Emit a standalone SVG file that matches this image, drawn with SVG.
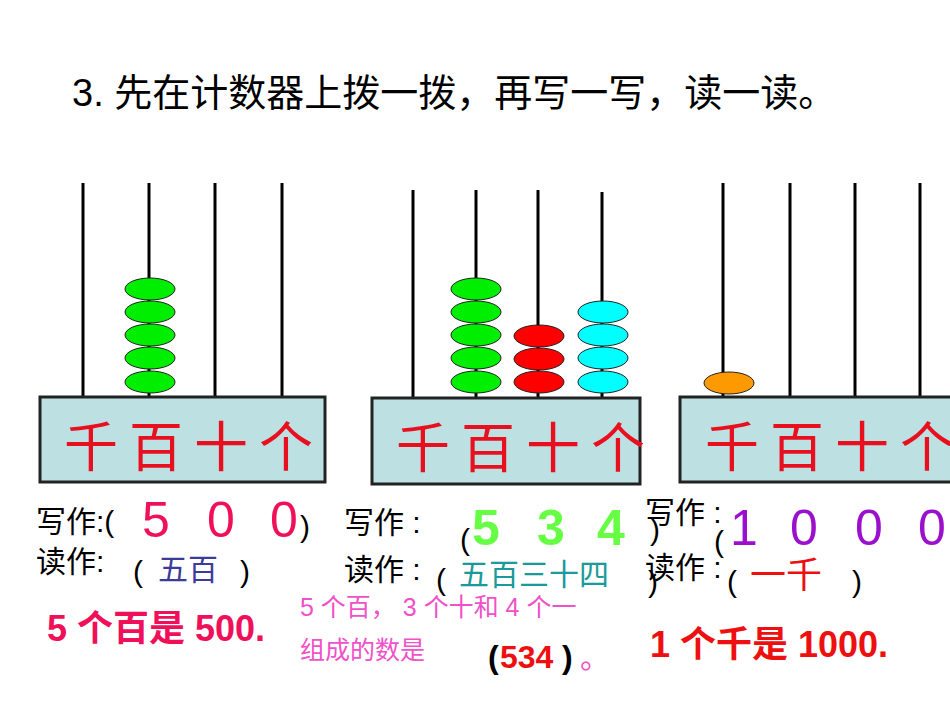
<svg xmlns="http://www.w3.org/2000/svg" width="950" height="713" viewBox="0 0 950 713">
<style>
.rod{stroke:#000;stroke-width:3}
.box{fill:#bde0e3;stroke:#222;stroke-width:3}
.lab{font-family:"Liberation Sans","Noto Sans CJK SC",sans-serif;font-size:54px;fill:#e8101e;letter-spacing:11px}
.t{font-family:"Liberation Sans","Noto Sans CJK SC",sans-serif}
.g{fill:#00ee00;stroke:#222;stroke-width:1}
.r{fill:#ff0000;stroke:#222;stroke-width:1}
.c{fill:#00ffff;stroke:#222;stroke-width:1}
</style>
<rect width="950" height="713" fill="#fff"/>
<text class="t" x="72" y="106" font-size="38">3. 先在计数器上拨一拨，再写一写，读一读。</text>
<g id="abacus1">
<line class="rod" x1="83" y1="183" x2="83" y2="397"/><line class="rod" x1="149" y1="183" x2="149" y2="397"/><line class="rod" x1="215" y1="183" x2="215" y2="397"/><line class="rod" x1="282" y1="183" x2="282" y2="397"/>
<ellipse class="g" cx="150" cy="289" rx="25" ry="11"/><ellipse class="g" cx="150" cy="312" rx="25" ry="11"/><ellipse class="g" cx="150" cy="335" rx="25" ry="11"/><ellipse class="g" cx="150" cy="358" rx="25" ry="11"/><ellipse class="g" cx="150" cy="382" rx="25" ry="11"/>
<rect class="box" x="40" y="397" width="285" height="85"/>
<text class="lab" x="64" y="467">千百十个</text>
</g>
<g id="abacus2">
<line class="rod" x1="413" y1="190" x2="413" y2="398"/><line class="rod" x1="476" y1="190" x2="476" y2="398"/><line class="rod" x1="538" y1="190" x2="538" y2="398"/><line class="rod" x1="602" y1="192" x2="602" y2="398"/>
<ellipse class="g" cx="476" cy="289" rx="25" ry="11"/><ellipse class="g" cx="476" cy="312" rx="25" ry="11"/><ellipse class="g" cx="476" cy="335" rx="25" ry="11"/><ellipse class="g" cx="476" cy="358" rx="25" ry="11"/><ellipse class="g" cx="476" cy="382" rx="25" ry="11"/>
<ellipse class="r" cx="539" cy="336" rx="25" ry="11"/><ellipse class="r" cx="539" cy="359" rx="25" ry="11"/><ellipse class="r" cx="539" cy="382" rx="25" ry="11"/>
<ellipse class="c" cx="603" cy="312" rx="25" ry="11"/><ellipse class="c" cx="603" cy="335" rx="25" ry="11"/><ellipse class="c" cx="603" cy="358" rx="25" ry="11"/><ellipse class="c" cx="603" cy="382" rx="25" ry="11"/>
<rect class="box" x="372" y="398" width="268" height="86"/>
<text class="lab" x="396" y="468">千百十个</text>
</g>
<g id="abacus3">
<line class="rod" x1="723" y1="183" x2="723" y2="397"/><line class="rod" x1="790" y1="183" x2="790" y2="397"/><line class="rod" x1="855" y1="183" x2="855" y2="397"/><line class="rod" x1="920" y1="183" x2="920" y2="397"/>
<ellipse cx="729" cy="383" rx="25" ry="11" fill="#ff9900" stroke="#222"/>
<rect class="box" x="680" y="397" width="285" height="85"/>
<text class="lab" x="705" y="467">千百十个</text>
</g>
<g id="text1" class="t">
<text x="36" y="532" font-size="30">写作:(</text>
<text x="142" y="537" font-size="50" fill="#f0105a">5</text><text x="207" y="537" font-size="50" fill="#f0105a">0</text><text x="270" y="537" font-size="50" fill="#f0105a">0</text>
<text x="300" y="537" font-size="30">)</text>
<text x="36" y="572" font-size="30">读作:</text>
<text x="133" y="582" font-size="30">(</text><text x="158" y="580" font-size="30" fill="#3b3b9b">五百</text><text x="240" y="582" font-size="30">)</text>
<text x="47" y="641" font-size="36" font-weight="bold" fill="#f0105a">5 个百是 500.</text>
</g>
<g id="text2" class="t">
<text x="344" y="533" font-size="30">写作 :</text>
<text x="460" y="550" font-size="30">(</text>
<text x="472" y="545" font-size="50" font-weight="bold" fill="#66ff44">5</text><text x="537" y="545" font-size="50" font-weight="bold" fill="#66ff44">3</text><text x="597" y="545" font-size="50" font-weight="bold" fill="#66ff44">4</text>
<text x="344" y="580" font-size="30">读作 :</text>
<text x="436" y="590" font-size="30">(</text>
<text x="459" y="585" font-size="30" fill="#1a9a9a">五百三十四</text>
<text x="300" y="616" font-size="25" fill="#f050c8">5 个百， 3 个十和 4 个一</text>
<text x="300" y="659" font-size="25" fill="#f050c8">组成的数是</text>
<text x="488" y="668" font-size="32" font-weight="bold">(</text><text x="500" y="668" font-size="32" font-weight="bold" fill="#ee1010">534</text><text x="562" y="668" font-size="32" font-weight="bold">)</text>
<text x="580" y="668" font-size="30" fill="#f050c8">。</text>
</g>
<g id="text3" class="t">
<text x="645" y="523" font-size="30">写作 :</text>
<text x="650" y="540" font-size="30">)</text>
<text x="714" y="552" font-size="30">(</text>
<text x="730" y="545" font-size="50" fill="#9b10cc">1</text><text x="790" y="545" font-size="50" fill="#9b10cc">0</text><text x="855" y="545" font-size="50" fill="#9b10cc">0</text><text x="918" y="545" font-size="50" fill="#9b10cc">0</text>
<text x="645" y="578" font-size="30">读作 :</text>
<text x="648" y="592" font-size="30">)</text>
<text x="727" y="592" font-size="30">(</text><text x="750" y="588" font-size="36" fill="#ee1010">一千</text><text x="852" y="592" font-size="30">)</text>
<text x="650" y="657" font-size="36" font-weight="bold" fill="#ee1010">1 个千是 1000.</text>
</g>
</svg>
